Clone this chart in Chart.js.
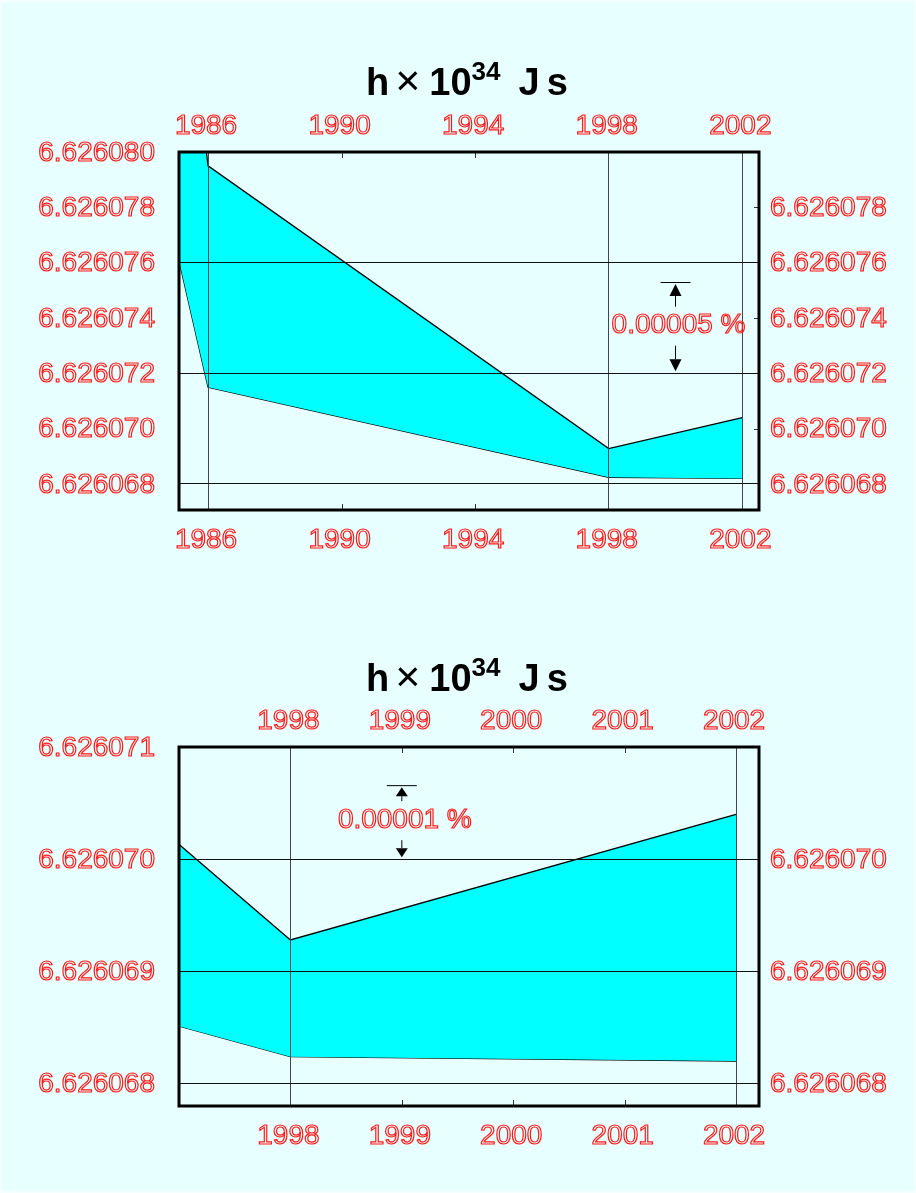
<!DOCTYPE html>
<html>
<head>
<meta charset="utf-8">
<script src="https://cdn.jsdelivr.net/npm/chart.js@4/dist/chart.umd.min.js"></script>
<style>
  html, body { margin: 0; padding: 0; background: #f4ffff; }
  #page { position: absolute; left: 2px; top: 2px; width: 912px; height: 1189px; background: #e8ffff; }
  canvas { position: absolute; left: 0; }
</style>
</head>
<body>
<div id="page"></div>
<canvas id="topChart" style="top:0px"></canvas>
<canvas id="bottomChart" style="top:596px"></canvas>
<script>
// CODATA values of h (x 10^34 J s), shown as value +/- uncertainty band
const years = [1973, 1986, 1998, 2002];
const upperH = [6.626212, 6.6260795, 6.62606928, 6.6260704];
const lowerH = [6.626140, 6.6260715, 6.62606824, 6.6260682];

// top chart
const topXTicks = [1986, 1990, 1994, 1998, 2002];
const topXGrid = [1986, 1998, 2002];
const topYLeft = [6.626080, 6.626078, 6.626076, 6.626074, 6.626072, 6.626070, 6.626068];
const topYRight = [6.626078, 6.626076, 6.626074, 6.626072, 6.626070, 6.626068];
const topYGrid = [6.626076, 6.626072, 6.626068];
const topNote = { x: 2000, from: 6.626072, to: 6.6260753, text: '0.00005 %' };

// bottom chart
const botXTicks = [1998, 1999, 2000, 2001, 2002];
const botXGrid = [1998, 2002];
const botYLeft = [6.626071, 6.626070, 6.626069, 6.626068];
const botYRight = [6.626070, 6.626069, 6.626068];
const botYGrid = [6.626070, 6.626069, 6.626068];
const botNote = { x: 1999, from: 6.626070, to: 6.62607066, text: '0.00001 %' };

const LABEL_FONT = '28px "Liberation Sans", Arial, sans-serif';

function near(list, v) {
    return list.some(g => Math.abs(g - v) < 1e-9);
}

function outlineText(ctx, text, x, y, align) {
    ctx.save();
    ctx.font = LABEL_FONT;
    ctx.textAlign = align;
    ctx.textBaseline = 'middle';
    ctx.strokeStyle = '#ff1a1a';
    ctx.lineWidth = 1.2;
    ctx.strokeText(text, x, y);
    ctx.restore();
}

function drawTitle(ctx, left, baseline) {
    const B = 'bold 38px "Liberation Sans", Arial, sans-serif';
    const parts = [
        { t: 'h', f: B, dy: 0, gap: 6 },
        { t: '\u00d7', f: '43px "Liberation Sans", Arial, sans-serif', dy: 0, gap: 9 },
        { t: '10', f: B, dy: 0, gap: 0 },
        { t: '34', f: 'bold 26px "Liberation Sans", Arial, sans-serif', dy: -15, gap: 18 },
        { t: 'J', f: B, dy: 0, gap: 7 },
        { t: 's', f: B, dy: 0, gap: 0 }
    ];
    ctx.save();
    let x = left;
    ctx.fillStyle = '#000';
    ctx.textBaseline = 'alphabetic';
    parts.forEach(p => {
        ctx.font = p.f;
        ctx.fillText(p.t, x, baseline + p.dy);
        x += ctx.measureText(p.t).width + p.gap;
    });
    ctx.restore();
}

function drawNote(ctx, xs, ys, note, arrowH) {
    const x = xs.getPixelForValue(note.x);
    const yTop = ys.getPixelForValue(note.to);
    const yBot = ys.getPixelForValue(note.from);
    const mid = (yTop + yBot) / 2;
    ctx.save();
    ctx.strokeStyle = '#000';
    ctx.fillStyle = '#000';
    ctx.lineWidth = 1;
    // bar at the upper value
    ctx.beginPath();
    ctx.moveTo(x - 15, yTop + 0.5);
    ctx.lineTo(x + 15, yTop + 0.5);
    ctx.stroke();
    // up arrow
    ctx.beginPath();
    ctx.moveTo(x, yTop + 2);
    ctx.lineTo(x - 6, yTop + 2 + arrowH);
    ctx.lineTo(x + 6, yTop + 2 + arrowH);
    ctx.closePath();
    ctx.fill();
    ctx.beginPath();
    ctx.moveTo(x, yTop + 2 + arrowH);
    ctx.lineTo(x, mid - 21);
    ctx.stroke();
    // down arrow
    ctx.beginPath();
    ctx.moveTo(x, mid + 18);
    ctx.lineTo(x, yBot - 2 - arrowH);
    ctx.stroke();
    ctx.beginPath();
    ctx.moveTo(x, yBot - 2);
    ctx.lineTo(x - 6, yBot - 2 - arrowH);
    ctx.lineTo(x + 6, yBot - 2 - arrowH);
    ctx.closePath();
    ctx.fill();
    ctx.restore();
    outlineText(ctx, note.text, x + 3, mid - 2, 'center');
}

function makeFrame(opt) {
    return {
        id: 'frame',
        afterDraw(chart) {
            const ctx = chart.ctx;
            const a = chart.chartArea;
            const xs = chart.scales.x;
            const ys = chart.scales.y;
            ctx.save();
            // small inner ticks
            ctx.strokeStyle = '#333';
            ctx.lineWidth = 1;
            ctx.beginPath();
            opt.xTicks.forEach(v => {
                if (near(opt.xGrid, v)) return;
                const px = Math.round(xs.getPixelForValue(v)) + 0.5;
                ctx.moveTo(px, a.top); ctx.lineTo(px, a.top + 6);
                ctx.moveTo(px, a.bottom); ctx.lineTo(px, a.bottom - 6);
            });
            opt.yRight.forEach(v => {
                if (near(opt.yGrid, v)) return;
                const py = Math.round(ys.getPixelForValue(v)) + 0.5;
                ctx.moveTo(a.right, py); ctx.lineTo(a.right - 5, py);
            });
            ctx.stroke();
            // heavy frame
            ctx.strokeStyle = '#000';
            ctx.lineWidth = 3;
            ctx.strokeRect(a.left, a.top, a.right - a.left, a.bottom - a.top);
            ctx.restore();

            // tick labels, outlined
            opt.xTicks.forEach(v => {
                const px = xs.getPixelForValue(v) - 2;
                outlineText(ctx, String(v), px, a.top - 26, 'center');
                outlineText(ctx, String(v), px, a.bottom + 30, 'center');
            });
            opt.yLeft.forEach(v => {
                outlineText(ctx, v.toFixed(6), a.left - 24, ys.getPixelForValue(v) + 1, 'right');
            });
            opt.yRight.forEach(v => {
                outlineText(ctx, v.toFixed(6), a.right + 11, ys.getPixelForValue(v) + 1, 'left');
            });

            drawTitle(ctx, 366, 95);
            drawNote(ctx, xs, ys, opt.note, opt.arrowH);
        }
    };
}

function buildChart(id, opt) {
    const points = (vals) => years.map((y, i) => ({ x: y, y: vals[i] }));
    const canvas = document.getElementById(id);
    canvas.width = 916;
    canvas.height = 597;
    canvas.style.width = '916px';
    canvas.style.height = '597px';
    return new Chart(canvas.getContext('2d'), {
        type: 'line',
        data: {
            datasets: [
                {
                    label: 'upper',
                    data: points(upperH),
                    borderColor: '#000',
                    borderWidth: 1.3,
                    backgroundColor: '#00ffff',
                    fill: '+1',
                    pointRadius: 0,
                    tension: 0,
                    clip: 0
                },
                {
                    label: 'lower',
                    data: points(lowerH),
                    borderColor: '#000',
                    borderWidth: 1.3,
                    fill: false,
                    pointRadius: 0,
                    tension: 0,
                    clip: 0
                }
            ]
        },
        options: {
            responsive: false,
            animation: false,
            layout: { padding: { left: 179, right: 157, top: opt.top, bottom: 597 - opt.bottom } },
            plugins: { legend: { display: false }, tooltip: { enabled: false }, title: { display: false } },
            scales: {
                x: {
                    type: 'linear',
                    min: opt.xMin,
                    max: opt.xMax,
                    afterBuildTicks: (s) => { s.ticks = opt.xGrid.map(v => ({ value: v })); },
                    ticks: { display: false },
                    border: { display: false },
                    grid: { color: '#445', lineWidth: 1, drawTicks: false, z: 1 }
                },
                y: {
                    type: 'linear',
                    min: opt.yMin,
                    max: opt.yMax,
                    afterBuildTicks: (s) => { s.ticks = opt.yGrid.map(v => ({ value: v })); },
                    ticks: { display: false },
                    border: { display: false },
                    grid: { color: '#111', lineWidth: 1, drawTicks: false, z: 1 }
                }
            }
        },
        plugins: [makeFrame(opt)]
    });
}

buildChart('topChart', {
    xMin: 1985.13, xMax: 2002.5, yMin: 6.62606706, yMax: 6.626080,
    top: 152, bottom: 510,
    xTicks: topXTicks, xGrid: topXGrid,
    yLeft: topYLeft, yRight: topYRight, yGrid: topYGrid,
    note: topNote, arrowH: 12
});

buildChart('bottomChart', {
    xMin: 1997.0, xMax: 2002.206, yMin: 6.6260678, yMax: 6.626071,
    top: 151, bottom: 510,
    xTicks: botXTicks, xGrid: botXGrid,
    yLeft: botYLeft, yRight: botYRight, yGrid: botYGrid,
    note: botNote, arrowH: 9
});
</script>
</body>
</html>
